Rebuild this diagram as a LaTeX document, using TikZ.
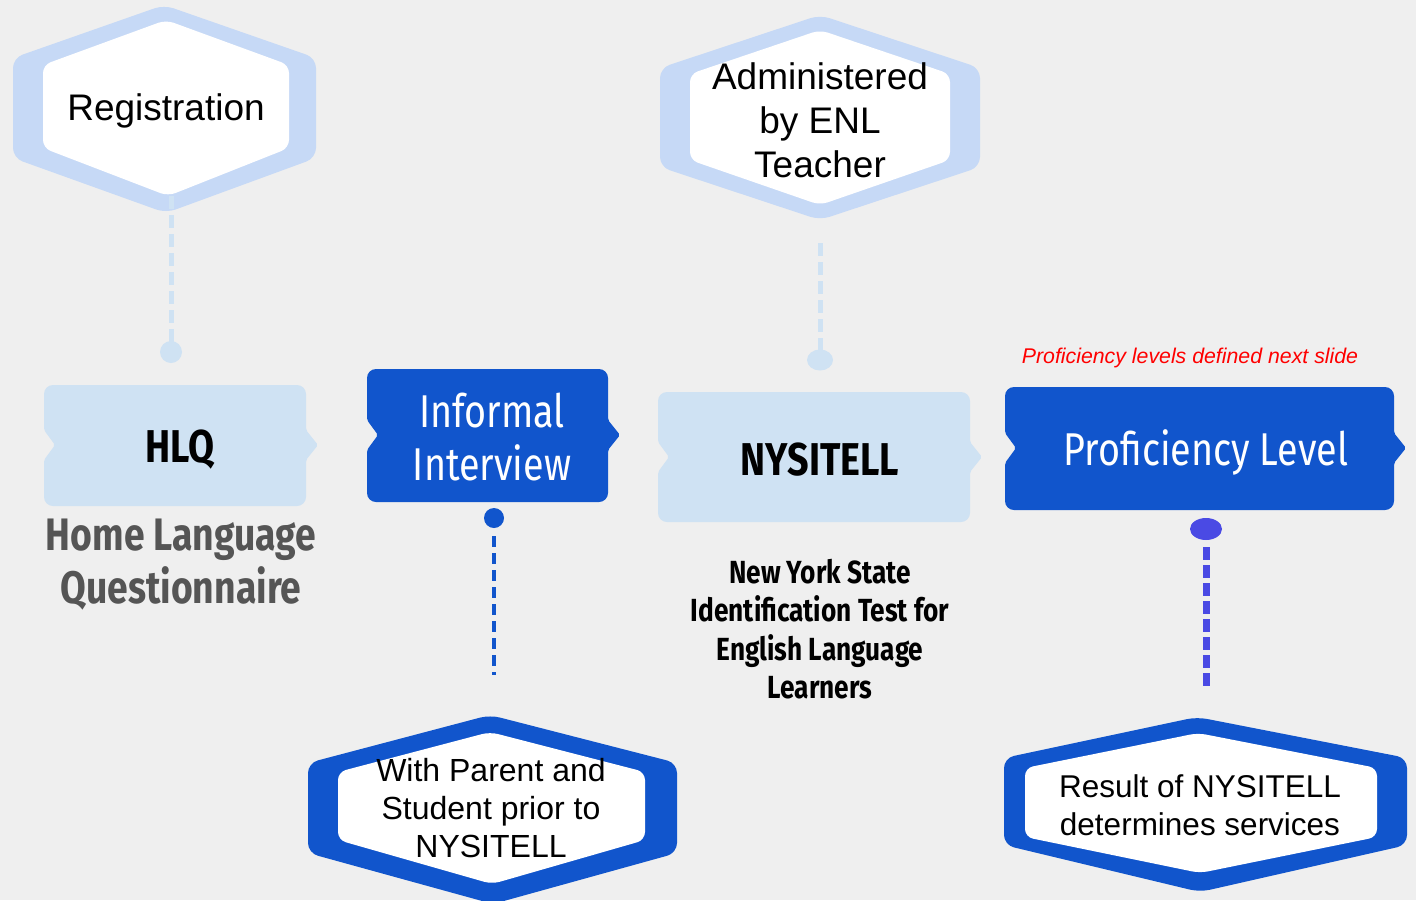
\documentclass[tikz,border=0pt]{standalone}
\usepackage{fontspec}
\usetikzlibrary{shapes.geometric}
\setmainfont{Liberation Sans}
\newfontfamily\fira[FakeStretch=0.82]{Fira Sans}
\definecolor{hexlight}{HTML}{C6D9F6}
\definecolor{boxlight}{HTML}{CFE2F3}
\definecolor{darkblue}{HTML}{1155CC}
\definecolor{violetdot}{HTML}{4A4AE4}
\definecolor{bgcol}{HTML}{EFEFEF}
\definecolor{greytext}{HTML}{555555}
\newcommand\chevbox[6]{% x1 y1 x2 y2 ym color
  \fill[#6] [rounded corners=9] (#1,#2) -- (#3,#2) [rounded corners=2] -- (#3,#5-15) -- (#3+12,#5) -- (#3,#5+15) [rounded corners=9] -- (#3,#4) -- (#1,#4) [rounded corners=2] -- (#1,#5+15) -- (#1+11,#5) -- (#1,#5-15) [rounded corners=9] -- cycle;}
\tikzset{
  arialtxt/.style={inner sep=0pt, align=center, text=black},
  firatxt/.style={inner sep=0pt, align=center},
  lightdash/.style={draw=boxlight, line width=5pt, dash pattern=on 13pt off 6pt},
  bluedash/.style={draw=darkblue, line width=4pt, dash pattern=on 11pt off 6pt},
  violetdash/.style={draw=violetdot, line width=7pt, dash pattern=on 13pt off 5pt},
}
\begin{document}
\begin{tikzpicture}[x=1pt,y=-1pt]
\fill[bgcol] (0,0) rectangle (1416,900);
\useasboundingbox (0,0) rectangle (1416,900);

% ---------- Registration hexagon
\fill[hexlight, rounded corners=10] (164,5) -- (316,58) -- (316,158) -- (166,213) -- (13,158) -- (13,58) -- cycle;
\fill[white, rounded corners=8] (166,20) -- (289,65) -- (289,148) -- (168,196) -- (43,148) -- (43,65) -- cycle;
\node[arialtxt, font=\fontsize{37}{44}\selectfont] (reg) at (166,111) {Registration};
\coordinate (regb) at (171,196);
\node[circle, fill=boxlight, inner sep=0pt, minimum size=22pt] (dot1) at (171,352) {};
\draw[lightdash] (regb) -- ([yshift=-10pt]dot1.north);

% ---------- Administered hexagon
\fill[hexlight, rounded corners=10] (820,15) -- (980,68) -- (980,167) -- (820,220) -- (660,167) -- (660,68) -- cycle;
\fill[white, rounded corners=8] (820,30) -- (950,74) -- (950,160) -- (820,205) -- (690,160) -- (690,74) -- cycle;
\node[arialtxt, font=\fontsize{37}{44}\selectfont] (adm) at (820,120) {Administered\\by ENL\\Teacher};
\coordinate (admb) at (820,243);
\node[ellipse, fill=boxlight, inner sep=0pt, minimum width=26pt, minimum height=21pt] (dot2) at (820,360) {};
\draw[lightdash] (admb) -- ([yshift=-7pt]dot2.north);

% ---------- HLQ box
\chevbox{44}{385}{306}{506}{445}{boxlight}
\node[firatxt, font=\fira\bfseries\fontsize{46}{53}\selectfont] (hlq) at (180,450) {HLQ};
\node[firatxt, text=greytext, font=\fira\bfseries\fontsize{45.5}{53}\selectfont] (hlqdesc) at (181,565) {Home Language\\Questionnaire};

% ---------- Informal Interview box
\chevbox{367}{369}{608}{502}{435}{darkblue}
\node[firatxt, text=white, font=\fira\fontsize{46}{53}\selectfont] (inf) at (492,437) {Informal\\Interview};
\node[circle, fill=darkblue, inner sep=0pt, minimum size=20pt] (dot3) at (494,518) {};
\coordinate (infb) at (494,675);
\draw[bluedash] ([yshift=-8pt]dot3.south) -- (infb);

% ---------- NYSITELL box
\chevbox{658}{392}{970}{522}{457}{boxlight}
\node[firatxt, font=\fira\bfseries\fontsize{46}{53}\selectfont] (nys) at (820,460) {NYSITELL};
\node[firatxt, font=\fira\bfseries\fontsize{32}{38.5}\selectfont] (nysdesc) at (820,629) {New York State\\Identification Test for\\English Language\\Learners};

% ---------- Proficiency Level box
\node[inner sep=0pt, text=red, font=\itshape\fontsize{21.3}{25}\selectfont] (note) at (1190,358) {Proficiency levels defined next slide};
\chevbox{1005}{387}{1394}{510}{448}{darkblue}
\node[firatxt, text=white, font=\fira\fontsize{46}{53}\selectfont] (prof) at (1206,452) {Proficiency Level};
\node[ellipse, fill=violetdot, inner sep=0pt, minimum width=32pt, minimum height=22pt] (dot4) at (1206,529) {};
\coordinate (profb) at (1206,690);
\draw[violetdash] ([yshift=-7pt]dot4.south) -- (profb);

% ---------- bottom-left hexagon
\fill[darkblue, rounded corners=10] (490,715) -- (677,763) -- (677,853) -- (493,904) -- (308,853) -- (308,763) -- cycle;
\fill[white, rounded corners=8] (490,732) -- (645,772) -- (645,840) -- (492,884) -- (338,840) -- (338,772) -- cycle;
\node[arialtxt, font=\fontsize{32}{38}\selectfont] (parent) at (491,808) {With Parent and\\Student prior to\\NYSITELL};

% ---------- bottom-right hexagon
\fill[darkblue, rounded corners=10] (1197,717) -- (1407,758) -- (1407,845) -- (1200,892) -- (1004,845) -- (1004,758) -- cycle;
\fill[white, rounded corners=8] (1198,733) -- (1377,768) -- (1377,837) -- (1200,873) -- (1025,837) -- (1025,768) -- cycle;
\node[arialtxt, font=\fontsize{31.5}{38}\selectfont] (result) at (1200,805) {Result of NYSITELL\\determines services};
\end{tikzpicture}
\end{document}
